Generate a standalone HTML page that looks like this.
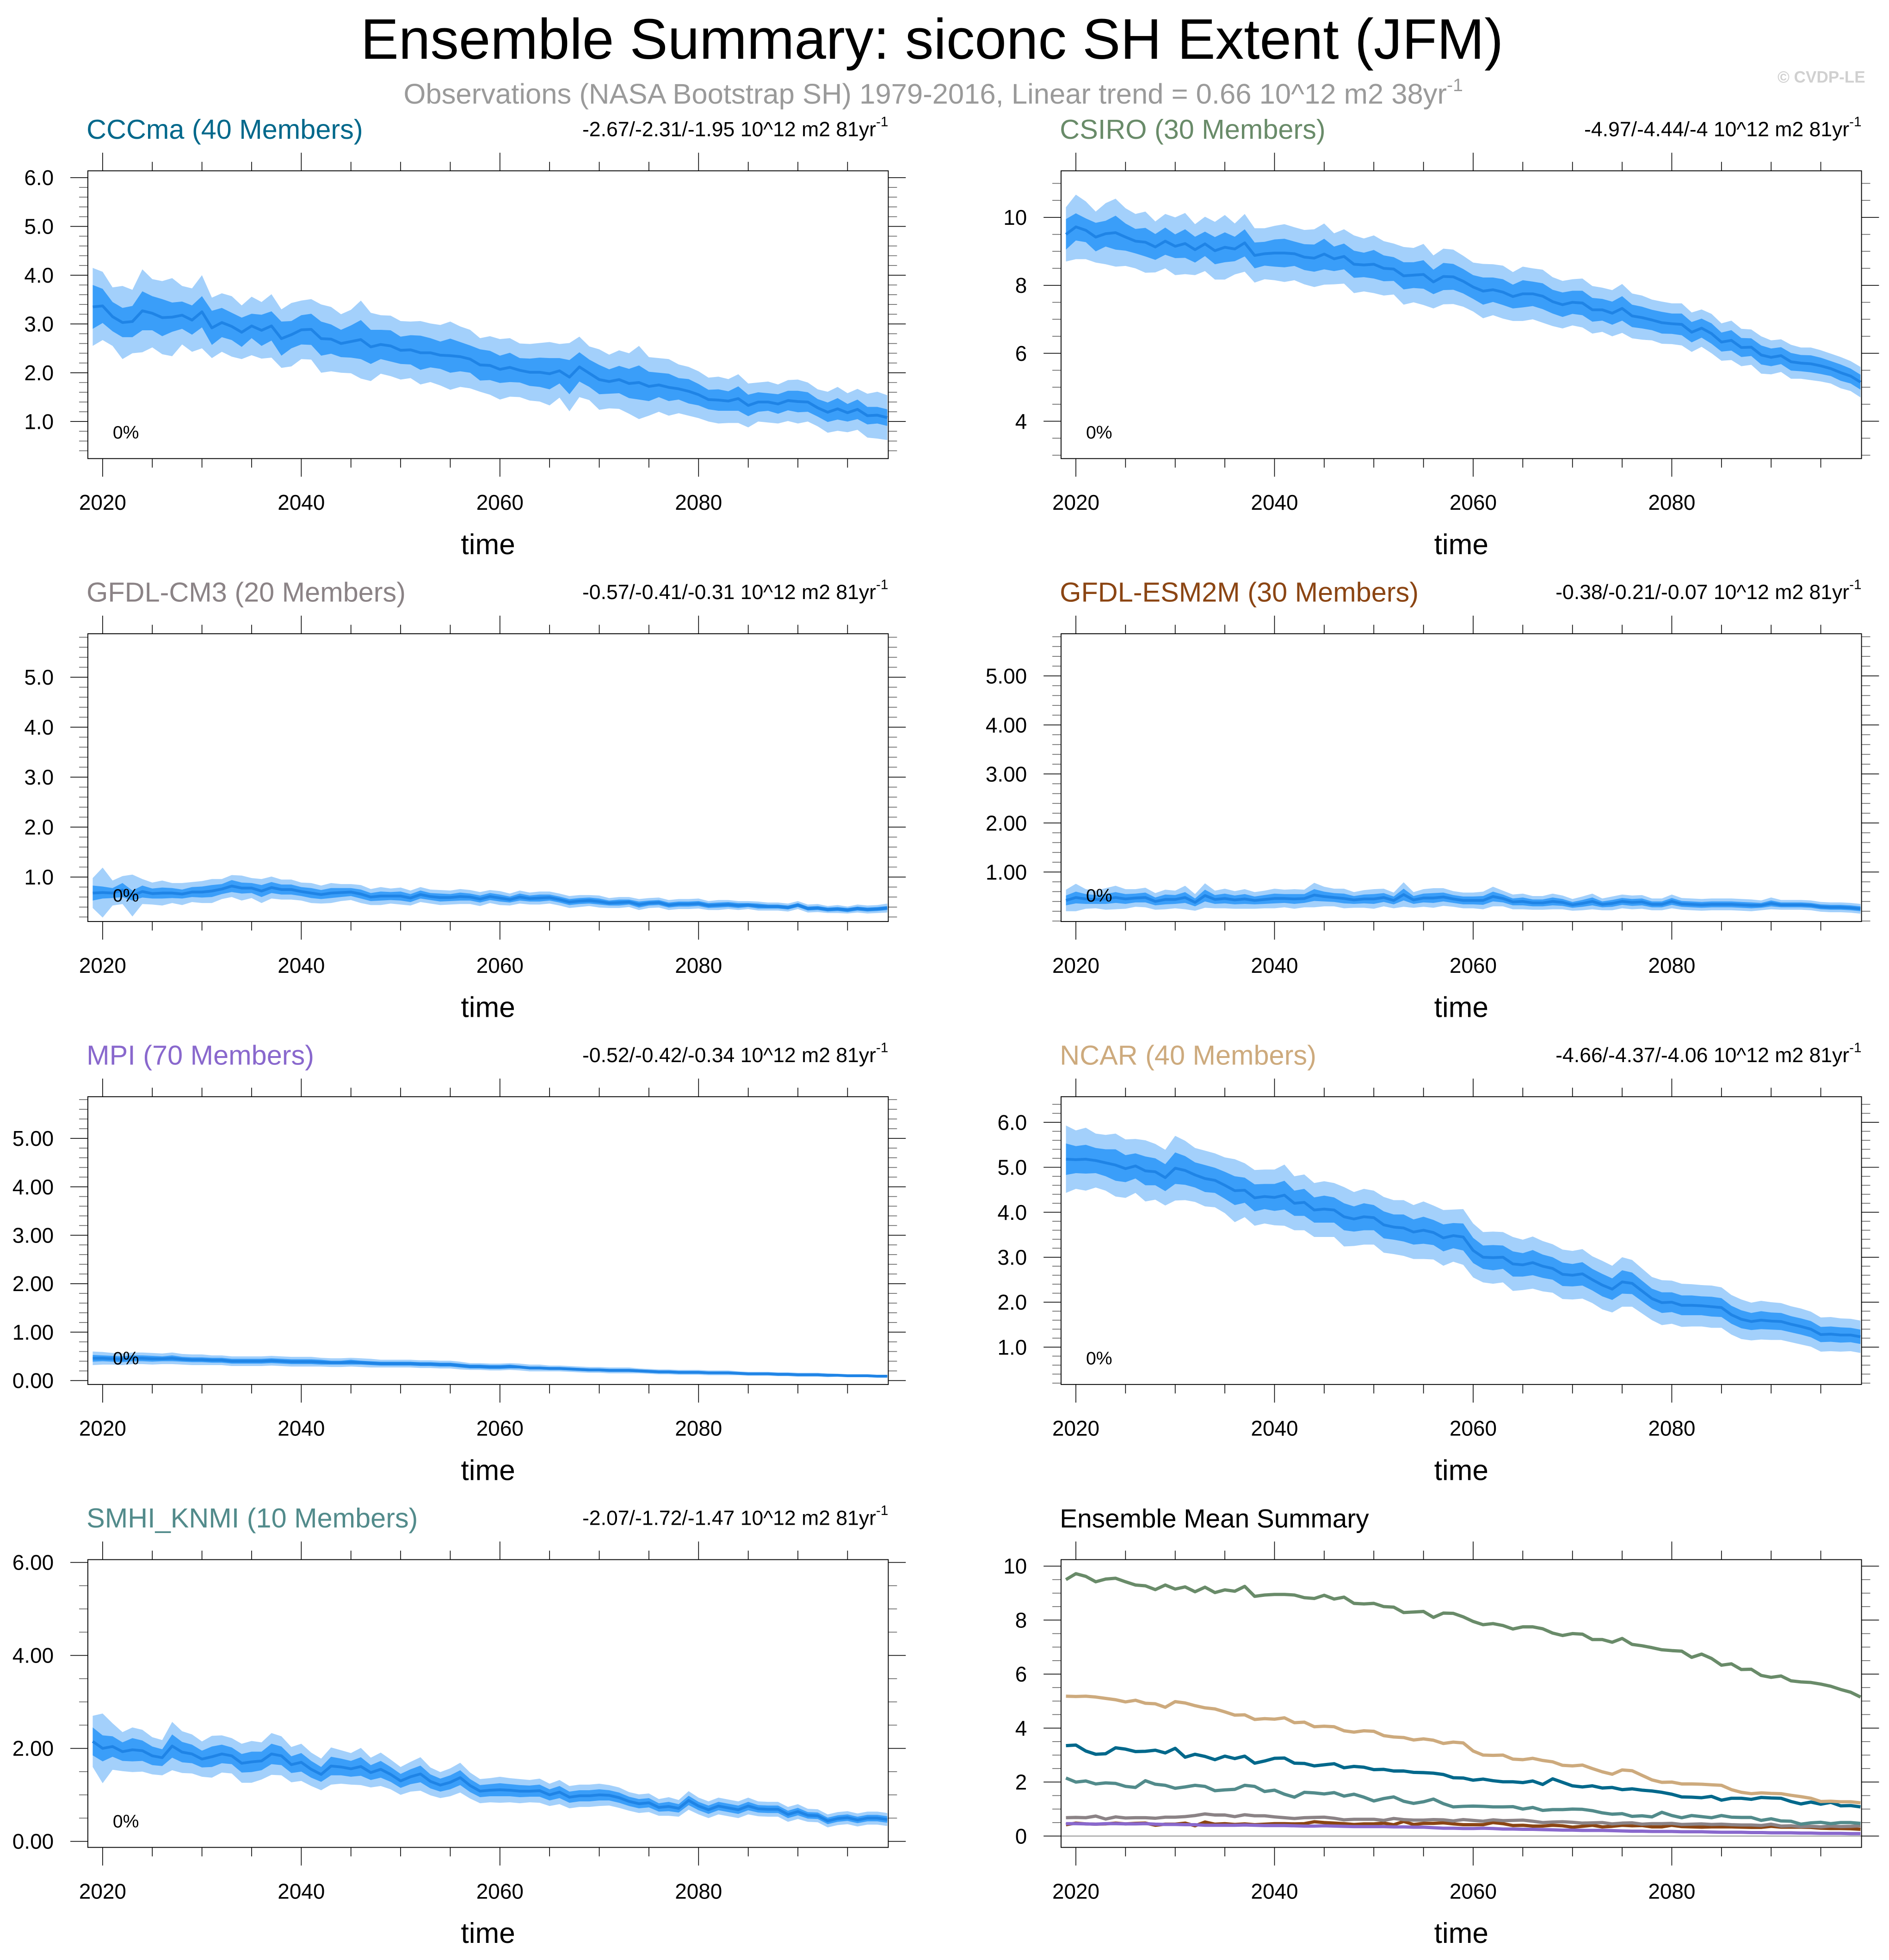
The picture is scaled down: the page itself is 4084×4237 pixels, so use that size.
<!DOCTYPE html>
<html><head><meta charset="utf-8"><style>
html,body{margin:0;padding:0;background:#fff}
svg{display:block;font-family:"Liberation Sans",Arial,sans-serif}
</style></head><body>
<svg id="fig" xmlns="http://www.w3.org/2000/svg" width="4084" height="4237" viewBox="0 0 1512 1568.6">
<rect x="0" y="0" width="1512" height="1568.6" fill="#fff"/>
<text x="746" y="47" font-size="45.6" text-anchor="middle" fill="#000">Ensemble Summary: siconc SH Extent (JFM)</text>
<text x="747" y="83" font-size="22.8" text-anchor="middle" fill="#9a9a9a">Observations (NASA Bootstrap SH) 1979-2016, Linear trend = 0.66 10^12 m2 38yr<tspan font-size="14.5" dy="-10">-1</tspan></text>
<text x="1493" y="66" font-size="13" font-weight="bold" text-anchor="end" fill="#d0d0d0">© CVDP-LE</text>
<g id="panels"></g>
</svg>
<script>
const years = []; for (let y = 2019; y <= 2099; y++) years.push(y);
const xTickLabels = [2020, 2040, 2060, 2080];

const cccmaMean = [3.35,3.37,3.15,3.03,3.05,3.27,3.22,3.13,3.14,3.18,
3.08,3.25,2.92,3.03,2.95,2.83,2.96,2.87,2.96,2.70,
2.78,2.88,2.89,2.70,2.69,2.60,2.64,2.68,2.53,2.58,
2.55,2.46,2.47,2.41,2.41,2.36,2.35,2.33,2.28,2.16,
2.15,2.07,2.11,2.05,2.01,2.01,1.98,2.04,1.91,2.12,
1.99,1.86,1.82,1.86,1.78,1.80,1.72,1.75,1.70,1.67,
1.62,1.55,1.45,1.44,1.42,1.47,1.33,1.40,1.40,1.36,
1.43,1.41,1.40,1.28,1.19,1.26,1.18,1.25,1.12,1.13,1.08];
const cccmaInner = [0.45,0.35,0.30,0.30,0.32,0.40,0.35,0.38,0.30,0.28,0.30,0.32,0.35,0.30,0.28,0.30,0.25,0.32,0.30,0.35,0.28,0.30,0.32,0.35,0.30,0.28,0.33,0.40,0.35,0.30,0.32,0.28,0.30,0.35,0.30,0.28,0.35,0.30,0.28,0.32,0.30,0.28,0.30,0.25,0.28,0.30,0.32,0.26,0.35,0.30,0.28,0.30,0.25,0.28,0.30,0.35,0.30,0.25,0.28,0.22,0.25,0.22,0.20,0.22,0.20,0.25,0.22,0.20,0.18,0.20,0.20,0.22,0.20,0.18,0.20,0.22,0.18,0.20,0.18,0.17,0.17];
const cccmaOuter = [0.80,0.70,0.60,0.75,0.65,0.85,0.70,0.75,0.80,0.60,0.65,0.75,0.62,0.60,0.62,0.55,0.60,0.58,0.65,0.60,0.65,0.60,0.62,0.70,0.66,0.60,0.65,0.80,0.70,0.60,0.62,0.60,0.58,0.65,0.60,0.62,0.70,0.62,0.60,0.55,0.60,0.62,0.60,0.55,0.58,0.60,0.65,0.55,0.70,0.62,0.55,0.62,0.55,0.60,0.62,0.75,0.60,0.55,0.58,0.50,0.50,0.48,0.45,0.48,0.45,0.50,0.45,0.40,0.42,0.40,0.42,0.45,0.40,0.38,0.42,0.45,0.40,0.42,0.45,0.48,0.46];

const csiroMean = [9.50,9.72,9.62,9.42,9.52,9.55,9.42,9.30,9.27,9.13,
9.30,9.15,9.23,9.05,9.22,9.02,9.12,9.07,9.25,8.88,
8.93,8.95,8.95,8.93,8.83,8.80,8.92,8.78,8.85,8.62,
8.60,8.62,8.50,8.48,8.28,8.30,8.32,8.10,8.26,8.25,
8.12,7.95,7.83,7.87,7.80,7.67,7.75,7.75,7.68,7.52,
7.43,7.50,7.48,7.28,7.28,7.18,7.32,7.10,7.05,6.98,
6.90,6.87,6.85,6.62,6.74,6.58,6.33,6.38,6.17,6.18,
5.95,5.88,5.93,5.75,5.71,5.69,5.63,5.55,5.43,5.33,5.15];
const csiroInner = [0.45,0.40,0.35,0.42,0.38,0.50,0.40,0.36,0.42,0.38,0.40,0.35,0.42,0.38,0.36,0.40,0.44,0.36,0.40,0.38,0.35,0.40,0.42,0.36,0.38,0.40,0.45,0.36,0.38,0.40,0.36,0.42,0.38,0.35,0.40,0.38,0.42,0.36,0.40,0.38,0.36,0.35,0.40,0.36,0.38,0.35,0.40,0.36,0.38,0.35,0.36,0.34,0.36,0.35,0.32,0.34,0.36,0.33,0.32,0.30,0.32,0.30,0.32,0.30,0.28,0.30,0.28,0.30,0.28,0.26,0.28,0.26,0.25,0.26,0.24,0.25,0.24,0.22,0.24,0.22,0.22];
const csiroOuter = [0.80,0.95,0.85,0.75,0.90,1.00,0.85,0.80,0.90,0.75,0.80,0.85,0.90,0.75,0.80,0.85,0.95,0.75,0.85,0.80,0.75,0.80,0.85,0.78,0.80,0.85,0.90,0.75,0.80,0.85,0.78,0.85,0.80,0.75,0.85,0.80,0.90,0.78,0.82,0.80,0.75,0.72,0.80,0.75,0.78,0.72,0.80,0.75,0.78,0.72,0.70,0.68,0.72,0.70,0.65,0.68,0.72,0.66,0.65,0.60,0.62,0.60,0.62,0.58,0.55,0.58,0.55,0.58,0.55,0.52,0.55,0.50,0.48,0.50,0.46,0.48,0.46,0.44,0.46,0.44,0.45];

const cm3Mean = [0.68,0.69,0.68,0.74,0.63,0.71,0.67,0.68,0.68,0.66,
0.70,0.70,0.72,0.76,0.82,0.78,0.78,0.72,0.79,0.75,
0.75,0.71,0.68,0.65,0.68,0.69,0.70,0.66,0.60,0.62,
0.62,0.62,0.58,0.65,0.61,0.59,0.59,0.61,0.60,0.56,
0.61,0.58,0.55,0.60,0.57,0.58,0.59,0.55,0.50,0.52,
0.53,0.51,0.48,0.49,0.50,0.45,0.48,0.49,0.44,0.46,
0.46,0.47,0.43,0.44,0.45,0.43,0.44,0.42,0.41,0.41,
0.39,0.44,0.37,0.38,0.35,0.36,0.34,0.37,0.35,0.36,0.38];
const cm3Inner = [0.15,0.12,0.10,0.14,0.10,0.12,0.10,0.11,0.10,0.09,0.10,0.11,0.12,0.10,0.12,0.11,0.10,0.12,0.11,0.10,0.10,0.09,0.10,0.09,0.10,0.09,0.08,0.09,0.08,0.09,0.08,0.09,0.08,0.08,0.07,0.08,0.07,0.08,0.07,0.07,0.07,0.07,0.06,0.07,0.06,0.07,0.06,0.06,0.06,0.06,0.06,0.06,0.05,0.06,0.05,0.06,0.05,0.05,0.05,0.05,0.05,0.05,0.05,0.05,0.05,0.05,0.04,0.05,0.04,0.04,0.04,0.04,0.04,0.04,0.04,0.04,0.04,0.04,0.04,0.04,0.04];
const cm3Outer = [0.30,0.50,0.25,0.28,0.42,0.25,0.22,0.25,0.20,0.22,0.20,0.22,0.24,0.20,0.22,0.25,0.20,0.24,0.22,0.20,0.20,0.18,0.20,0.18,0.20,0.17,0.16,0.18,0.16,0.18,0.15,0.17,0.15,0.15,0.14,0.15,0.14,0.15,0.14,0.14,0.13,0.14,0.12,0.13,0.12,0.13,0.12,0.12,0.12,0.12,0.11,0.12,0.10,0.11,0.10,0.11,0.10,0.10,0.10,0.10,0.10,0.10,0.09,0.10,0.09,0.09,0.08,0.09,0.08,0.08,0.08,0.08,0.08,0.08,0.07,0.08,0.07,0.08,0.08,0.08,0.09];

const esm2mMean = [0.42,0.48,0.45,0.44,0.45,0.48,0.45,0.47,0.48,0.40,
0.44,0.44,0.48,0.38,0.52,0.44,0.46,0.43,0.45,0.42,
0.44,0.46,0.46,0.45,0.46,0.53,0.50,0.48,0.46,0.43,
0.45,0.45,0.48,0.42,0.54,0.43,0.47,0.47,0.49,0.45,
0.42,0.42,0.42,0.50,0.46,0.39,0.40,0.37,0.37,0.40,
0.38,0.33,0.36,0.40,0.34,0.36,0.40,0.38,0.39,0.34,
0.34,0.40,0.35,0.34,0.33,0.34,0.34,0.34,0.33,0.32,
0.32,0.36,0.33,0.33,0.33,0.32,0.29,0.28,0.28,0.27,0.25];
const esm2mInner = [0.10,0.12,0.10,0.09,0.10,0.11,0.10,0.09,0.10,0.08,0.10,0.09,0.11,0.08,0.12,0.09,0.10,0.09,0.10,0.08,0.09,0.10,0.09,0.10,0.09,0.12,0.10,0.09,0.10,0.08,0.09,0.10,0.09,0.08,0.12,0.08,0.09,0.10,0.09,0.08,0.08,0.08,0.09,0.10,0.08,0.07,0.08,0.07,0.07,0.08,0.07,0.06,0.07,0.08,0.06,0.07,0.07,0.07,0.07,0.06,0.06,0.07,0.06,0.06,0.06,0.06,0.06,0.06,0.06,0.06,0.05,0.06,0.05,0.05,0.05,0.05,0.05,0.05,0.05,0.05,0.05];
const esm2mOuter = [0.22,0.28,0.20,0.18,0.22,0.24,0.20,0.18,0.20,0.17,0.20,0.18,0.24,0.17,0.25,0.18,0.20,0.18,0.20,0.17,0.18,0.20,0.18,0.20,0.18,0.25,0.20,0.18,0.20,0.16,0.18,0.20,0.18,0.16,0.25,0.16,0.18,0.20,0.18,0.16,0.16,0.16,0.18,0.20,0.16,0.15,0.16,0.14,0.14,0.16,0.14,0.12,0.14,0.16,0.12,0.14,0.14,0.14,0.14,0.12,0.12,0.14,0.12,0.12,0.12,0.12,0.12,0.12,0.12,0.12,0.10,0.12,0.10,0.10,0.10,0.10,0.10,0.10,0.10,0.10,0.10];

const mpiMean = [0.46,0.46,0.45,0.44,0.46,0.46,0.45,0.45,0.46,0.44,
0.43,0.43,0.42,0.42,0.40,0.40,0.40,0.40,0.41,0.40,
0.39,0.39,0.39,0.38,0.37,0.37,0.38,0.37,0.36,0.35,
0.35,0.35,0.35,0.34,0.34,0.33,0.33,0.31,0.29,0.29,
0.28,0.28,0.29,0.28,0.26,0.26,0.25,0.25,0.24,0.23,
0.22,0.22,0.21,0.21,0.21,0.20,0.19,0.18,0.18,0.17,
0.17,0.17,0.16,0.16,0.16,0.15,0.14,0.14,0.14,0.13,
0.13,0.12,0.12,0.12,0.11,0.11,0.10,0.10,0.10,0.09,0.09];
const mpiInner = [0.07,0.06,0.06,0.06,0.06,0.06,0.06,0.05,0.06,0.05,0.05,0.05,0.05,0.05,0.05,0.05,0.05,0.05,0.05,0.05,0.05,0.05,0.05,0.05,0.04,0.04,0.05,0.04,0.04,0.04,0.04,0.04,0.04,0.04,0.04,0.04,0.04,0.04,0.04,0.04,0.04,0.04,0.04,0.03,0.03,0.03,0.03,0.03,0.03,0.03,0.03,0.03,0.03,0.03,0.03,0.03,0.03,0.03,0.03,0.03,0.03,0.03,0.02,0.02,0.02,0.02,0.02,0.02,0.02,0.02,0.02,0.02,0.02,0.02,0.02,0.02,0.02,0.02,0.02,0.02,0.02];
const mpiOuter = [0.14,0.13,0.12,0.12,0.12,0.12,0.12,0.11,0.12,0.11,0.11,0.11,0.10,0.10,0.10,0.10,0.10,0.10,0.10,0.10,0.10,0.10,0.10,0.09,0.09,0.09,0.09,0.09,0.09,0.08,0.08,0.08,0.08,0.08,0.08,0.08,0.08,0.08,0.07,0.07,0.07,0.07,0.07,0.07,0.07,0.07,0.06,0.06,0.06,0.06,0.06,0.06,0.06,0.06,0.06,0.05,0.05,0.05,0.05,0.05,0.05,0.05,0.05,0.05,0.05,0.04,0.04,0.04,0.04,0.04,0.04,0.04,0.04,0.04,0.04,0.03,0.03,0.03,0.03,0.03,0.03];

const ncarMean = [5.18,5.17,5.18,5.15,5.10,5.05,4.97,5.03,4.92,4.90,
4.77,4.98,4.93,4.83,4.75,4.71,4.60,4.48,4.49,4.32,
4.35,4.33,4.38,4.20,4.22,4.05,4.07,4.05,3.90,3.85,
3.90,3.88,3.72,3.67,3.65,3.56,3.60,3.55,3.43,3.48,
3.45,3.15,3.00,2.99,3.00,2.85,2.83,2.88,2.80,2.75,
2.62,2.60,2.63,2.50,2.38,2.29,2.45,2.42,2.25,2.08,
1.99,2.00,1.93,1.93,1.92,1.90,1.88,1.72,1.62,1.57,
1.60,1.58,1.57,1.51,1.46,1.40,1.28,1.29,1.27,1.27,1.23];
const ncarInner = [0.35,0.30,0.32,0.28,0.30,0.35,0.30,0.28,0.32,0.30,0.30,0.35,0.32,0.28,0.30,0.28,0.30,0.32,0.28,0.30,0.28,0.30,0.32,0.28,0.30,0.28,0.30,0.28,0.30,0.28,0.30,0.28,0.30,0.28,0.30,0.28,0.30,0.28,0.30,0.28,0.30,0.28,0.26,0.28,0.26,0.28,0.26,0.28,0.26,0.25,0.26,0.25,0.26,0.24,0.25,0.24,0.26,0.24,0.23,0.22,0.23,0.22,0.22,0.22,0.21,0.22,0.21,0.20,0.20,0.19,0.20,0.19,0.19,0.18,0.18,0.18,0.17,0.17,0.17,0.16,0.16];
const ncarOuter = [0.75,0.65,0.70,0.60,0.62,0.70,0.65,0.60,0.68,0.62,0.62,0.72,0.66,0.60,0.62,0.60,0.62,0.70,0.60,0.62,0.60,0.62,0.68,0.60,0.62,0.60,0.62,0.60,0.66,0.60,0.62,0.60,0.62,0.60,0.62,0.60,0.64,0.60,0.62,0.58,0.62,0.60,0.56,0.58,0.56,0.60,0.56,0.58,0.56,0.54,0.55,0.54,0.55,0.52,0.54,0.52,0.55,0.52,0.50,0.48,0.50,0.48,0.48,0.47,0.46,0.47,0.45,0.44,0.44,0.42,0.43,0.42,0.41,0.40,0.40,0.39,0.38,0.38,0.37,0.36,0.36];

const smhiMean = [2.15,2.00,2.04,1.93,1.97,1.95,1.84,1.80,2.05,1.92,
1.88,1.77,1.82,1.88,1.84,1.68,1.71,1.73,1.88,1.84,
1.65,1.70,1.55,1.44,1.62,1.60,1.56,1.61,1.48,1.55,
1.44,1.30,1.39,1.45,1.29,1.21,1.27,1.37,1.20,1.08,
1.10,1.11,1.10,1.08,1.08,1.09,1.00,1.06,0.95,0.98,
0.98,1.00,0.99,0.94,0.86,0.81,0.83,0.73,0.75,0.71,
0.88,0.76,0.68,0.76,0.72,0.68,0.76,0.70,0.69,0.69,
0.58,0.64,0.56,0.55,0.44,0.49,0.51,0.46,0.50,0.50,0.47];
const smhiInner = [0.30,0.28,0.22,0.20,0.25,0.22,0.20,0.18,0.25,0.22,0.20,0.18,0.22,0.20,0.18,0.20,0.22,0.20,0.22,0.20,0.18,0.20,0.18,0.16,0.20,0.18,0.17,0.20,0.16,0.18,0.16,0.15,0.16,0.18,0.15,0.14,0.15,0.16,0.14,0.13,0.13,0.14,0.13,0.13,0.12,0.13,0.12,0.13,0.12,0.12,0.12,0.12,0.11,0.11,0.10,0.10,0.10,0.09,0.10,0.09,0.10,0.09,0.09,0.09,0.09,0.09,0.09,0.08,0.08,0.08,0.08,0.08,0.07,0.07,0.07,0.07,0.07,0.07,0.07,0.07,0.07];
const smhiOuter = [0.55,0.75,0.50,0.42,0.48,0.45,0.40,0.38,0.52,0.45,0.42,0.38,0.45,0.40,0.38,0.42,0.45,0.40,0.45,0.42,0.38,0.40,0.36,0.34,0.40,0.36,0.34,0.40,0.32,0.36,0.32,0.30,0.32,0.36,0.30,0.28,0.30,0.32,0.28,0.26,0.26,0.28,0.26,0.26,0.24,0.26,0.24,0.26,0.24,0.24,0.24,0.24,0.22,0.22,0.20,0.20,0.20,0.18,0.20,0.18,0.20,0.18,0.18,0.18,0.18,0.18,0.18,0.16,0.16,0.16,0.16,0.16,0.14,0.14,0.14,0.14,0.14,0.14,0.14,0.14,0.14];

const NS = "http://www.w3.org/2000/svg";
const root = document.getElementById('panels');
function mk(tag, attrs, parent) {
  const e = document.createElementNS(NS, tag);
  for (const k in attrs) e.setAttribute(k, attrs[k]);
  (parent || root).appendChild(e);
  return e;
}

const BOX_L = 70.3, BOX_R = 711, BOX_T = 136.7, BOX_B = 367;
const COL_DX = 779, ROW_DY = 370.5;

const panels = [
  {key:'cccma', title:'CCCma (40 Members)', color:'#00688B', trend:'-2.67/-2.31/-1.95 10^12 m2 81yr', col:0,row:0, ymin:0.24,ymax:6.14, majors:[1,2,3,4,5,6], minor:0.2, dec:1, mean:cccmaMean, inner:cccmaInner, outer:cccmaOuter},
  {key:'csiro', title:'CSIRO (30 Members)', color:'#698B69', trend:'-4.97/-4.44/-4 10^12 m2 81yr', col:1,row:0, ymin:2.9,ymax:11.37, majors:[4,6,8,10], minor:0.5, dec:0, mean:csiroMean, inner:csiroInner, outer:csiroOuter},
  {key:'gfdl-cm3', title:'GFDL-CM3 (20 Members)', color:'#8B8386', trend:'-0.57/-0.41/-0.31 10^12 m2 81yr', col:0,row:1, ymin:0.11,ymax:5.87, majors:[1,2,3,4,5], minor:0.2, dec:1, mean:cm3Mean, inner:cm3Inner, outer:cm3Outer},
  {key:'gfdl-esm2m', title:'GFDL-ESM2M (30 Members)', color:'#8B4513', trend:'-0.38/-0.21/-0.07 10^12 m2 81yr', col:1,row:1, ymin:-0.01,ymax:5.86, majors:[1,2,3,4,5], minor:0.2, dec:2, mean:esm2mMean, inner:esm2mInner, outer:esm2mOuter},
  {key:'mpi', title:'MPI (70 Members)', color:'#8968CD', trend:'-0.52/-0.42/-0.34 10^12 m2 81yr', col:0,row:2, ymin:-0.08,ymax:5.86, majors:[0,1,2,3,4,5], minor:0.2, dec:2, mean:mpiMean, inner:mpiInner, outer:mpiOuter},
  {key:'ncar', title:'NCAR (40 Members)', color:'#CDAA7D', trend:'-4.66/-4.37/-4.06 10^12 m2 81yr', col:1,row:2, ymin:0.17,ymax:6.57, majors:[1,2,3,4,5,6], minor:0.2, dec:1, mean:ncarMean, inner:ncarInner, outer:ncarOuter},
  {key:'smhi-knmi', title:'SMHI_KNMI (10 Members)', color:'#528B8B', trend:'-2.07/-1.72/-1.47 10^12 m2 81yr', col:0,row:3, ymin:-0.13,ymax:6.06, majors:[0,2,4,6], minor:0.5, dec:2, mean:smhiMean, inner:smhiInner, outer:smhiOuter}
];
const summary = {key:'ensemble-mean', title:'Ensemble Mean Summary', col:1,row:3, ymin:-0.42,ymax:10.24, majors:[0,2,4,6,8,10], minor:0.5, dec:0};

function drawFrame(p) {
  const dx = p.col*COL_DX, dy = p.row*ROW_DY;
  const L = BOX_L+dx, R = BOX_R+dx, T = BOX_T+dy, B = BOX_B+dy;
  const g = mk('g', {});
  
  
  const X = yr => L + (yr - 2019) * 7.95 + 3.9;
  const Y = v => B - (v - p.ymin) / (p.ymax - p.ymin) * (B - T);
  const t = mk('text', {x: L-1, y: 111+dy, 'font-size': p.trend ? 22 : 21, fill: p.color || '#000'}, g);
  t.textContent = p.title;
  
  
  if (p.trend) {
    const tr = mk('text', {x: R, y: 109+dy, 'font-size': 16.5, 'text-anchor': 'end', fill: '#000'}, g);
    
    
    tr.appendChild(document.createTextNode(p.trend));
    const sup = document.createElementNS(NS, 'tspan');
    sup.setAttribute('font-size', '11'); sup.setAttribute('dy', '-8');
    sup.textContent = '-1';
    tr.appendChild(sup);
  }
  for (let yr = 2020; yr <= 2095; yr += 5) {
    const major = (yr % 20 === 0);
    const x = X(yr);
    mk('line', {x1:x, x2:x, y1:T, y2:T-(major?14.5:7.2), stroke:'#000', 'stroke-width':0.6}, g);
    mk('line', {x1:x, x2:x, y1:B, y2:B+(major?14.5:7.2), stroke:'#000', 'stroke-width':0.6}, g);
  }
  xTickLabels.forEach(yr => {
    const lb = mk('text', {x: X(yr), y: 408+dy, 'font-size': 17, 'text-anchor':'middle', fill:'#000'}, g);
    lb.textContent = yr;
    
    
  });
  const xt = mk('text', {x:(L+R)/2, y:443.5+dy, 'font-size':23, 'text-anchor':'middle', fill:'#000'}, g);
  xt.textContent = 'time';
  
  
  const start = Math.ceil(p.ymin / p.minor - 1e-6);
  for (let k = start; k * p.minor <= p.ymax + 1e-9; k++) {
    const v = k * p.minor;
    const major = p.majors.some(m => Math.abs(m - v) < 1e-6);
    const y = Y(v);
    const len = major ? 14 : 7;
    mk('line', {x1:L, x2:L-len, y1:y, y2:y, stroke: major?'#000':'#666', 'stroke-width':0.6}, g);
    mk('line', {x1:R, x2:R+len, y1:y, y2:y, stroke: major?'#000':'#666', 'stroke-width':0.6}, g);
  }
  p.majors.forEach(v => {
    const lb = mk('text', {x: 43+dx, y: Y(v)+6, 'font-size':17, 'text-anchor':'end', fill:'#000'}, g);
    lb.textContent = v.toFixed(p.dec);
    
    
  });
  const clipId = 'clip-' + p.key;
  const cp = mk('clipPath', {id: clipId}, g);
  mk('rect', {x:L, y:T, width:R-L, height:B-T}, cp);
  const plot = mk('g', {'clip-path': 'url(#'+clipId+')'}, g);
  return {g, plot, X, Y, L, R, T, B, dy, dx};
}

function band(f, mean, w, color, name) {
  let pts = [];
  mean.forEach((m, i) => pts.push(f.X(years[i]).toFixed(2) + ',' + f.Y(m + w[i]).toFixed(2)));
  for (let i = mean.length - 1; i >= 0; i--) pts.push(f.X(years[i]).toFixed(2) + ',' + f.Y(mean[i] - w[i]).toFixed(2));
  const pg = mk('polygon', {points: pts.join(' '), fill: color, stroke: 'none'}, f.plot);
  
  
}
function line(f, vals, color, width, name) {
  const pts = vals.map((v, i) => f.X(years[i]).toFixed(2) + ',' + f.Y(v).toFixed(2)).join(' ');
  const pl = mk('polyline', {points: pts, fill:'none', stroke: color, 'stroke-width': width, 'stroke-linejoin':'round'}, f.plot);
  
  
}
function boxRect(f) {
  const r = mk('rect', {x:f.L, y:f.T, width:f.R-f.L, height:f.B-f.T, fill:'none', stroke:'#000', 'stroke-width':0.7}, f.g);
  
  
}

panels.forEach(p => {
  const f = drawFrame(p);
  band(f, p.mean, p.outer, '#a3d0fb', p.key + '-outer-band');
  band(f, p.mean, p.inner, '#3a9ef9', p.key + '-inner-band');
  line(f, p.mean, '#1f84e6', 2.2, p.key + '-mean-line');
  boxRect(f);
  const pc = mk('text', {x: f.L+20, y: 351+f.dy, 'font-size':14.5, fill:'#000'}, f.g);
  pc.textContent = '0%';
  
  
});

const sf = drawFrame(summary);
mk('line', {x1:sf.L, x2:sf.R, y1:sf.Y(0), y2:sf.Y(0), stroke:'#999', 'stroke-width':0.8}, sf.plot);
const order = [panels[3], panels[2], panels[4], panels[6], panels[0], panels[5], panels[1]];
order.forEach(p => line(sf, p.mean, p.color, 2.6, p.key + '-summary-line'));
boxRect(sf);
</script>
</body></html>
